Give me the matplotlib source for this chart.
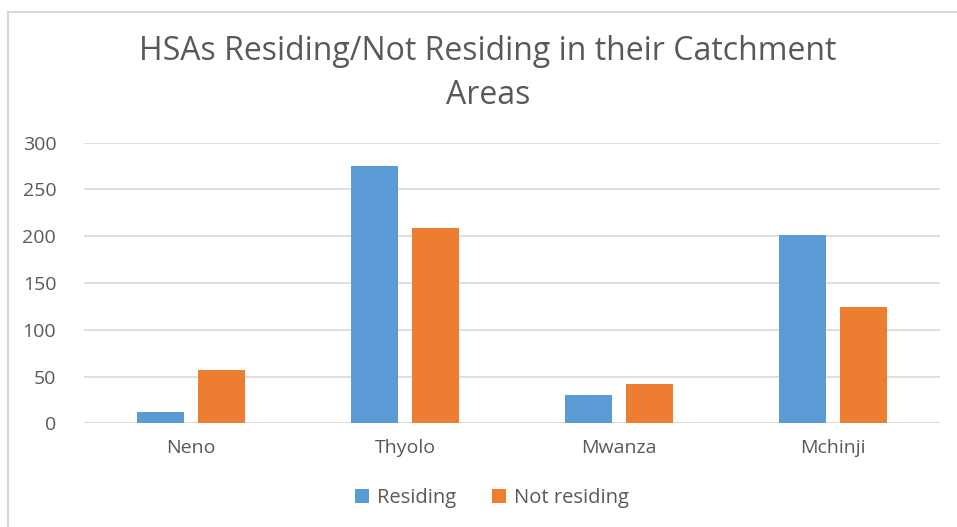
import matplotlib
matplotlib.use("Agg")
import matplotlib.pyplot as plt
import numpy as np
from matplotlib.lines import Line2D

categories = ["Neno", "Thyolo", "Mwanza", "Mchinji"]
residing = [12, 275, 30, 201]
not_residing = [57, 209, 42, 124]
series_names = ["Residing", "Not residing"]
yticks = [0, 50, 100, 150, 200, 250, 300]

plt.rcParams['font.family'] = ['Open Sans', 'DejaVu Sans']
txt = "#595959"
blue = "#5B9BD5"
orange = "#ED7D31"

fig = plt.figure(figsize=(9.57, 5.27), dpi=100)
W, H = 957, 527
ax = fig.add_axes([84 / W, 1 - 423.3 / H, (940 - 84) / W, (423.3 - 142.7) / H])

x = np.arange(len(categories))
bw = 0.224
off = 0.1425
ax.bar(x - off, residing, bw, color=blue, label=series_names[0], zorder=3)
ax.bar(x + off, not_residing, bw, color=orange, label=series_names[1], zorder=3)

ax.set_xlim(-0.5, len(categories) - 0.5)
ax.set_ylim(0, 300)
ax.set_yticks(yticks)
ax.set_yticklabels([str(v) for v in yticks])
ax.set_xticks(x)
ax.set_xticklabels(categories)
ax.tick_params(axis='both', length=0, colors=txt, labelsize=14)
ax.tick_params(axis='y', pad=20)
ax.tick_params(axis='x', pad=11)
ax.grid(axis='y', color="#D9D9D9", linewidth=1.2, zorder=0)
for s in ax.spines.values():
    s.set_visible(False)
ax.axhline(0, color="#D9D9D9", linewidth=1.2, zorder=2)

fig.text(488 / W, 1 - 52 / H, "HSAs Residing/Not Residing in their Catchment",
         ha='center', va='center', fontsize=23, color=txt)
fig.text(488 / W, 1 - 95 / H, "Areas", ha='center', va='center', fontsize=23, color=txt)

leg = fig.legend(loc='center', bbox_to_anchor=(492 / W, 1 - 498 / H), ncol=2, frameon=False,
                 fontsize=14.5, handlelength=0.7, handleheight=0.7, handletextpad=0.4,
                 columnspacing=1.8, labelcolor=txt)

# outer chart border
fig.add_artist(Line2D([8 / W, 8 / W], [0, 1 - 12 / H], transform=fig.transFigure,
                      color="#D9D9D9", linewidth=1.5))
fig.add_artist(Line2D([8 / W, 1], [1 - 12 / H, 1 - 12 / H], transform=fig.transFigure,
                      color="#D9D9D9", linewidth=1.5))

fig.savefig("out.png", dpi=100)
